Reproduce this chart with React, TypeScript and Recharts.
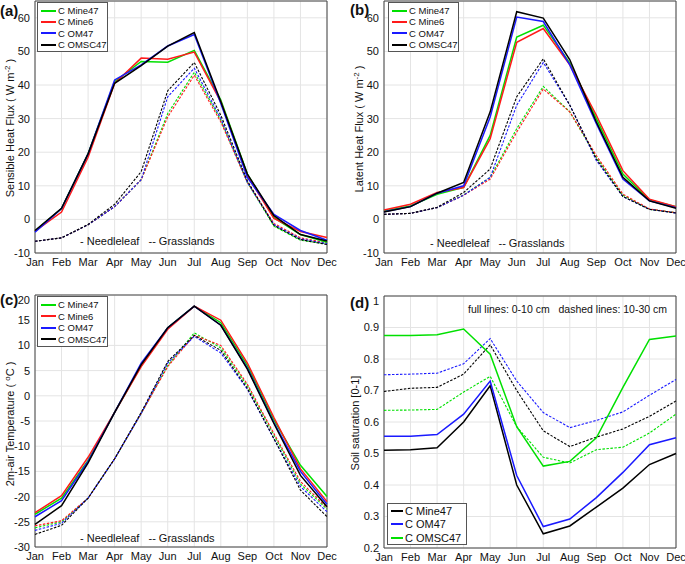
import React from 'react';
import { LineChart, Line, XAxis, YAxis, CartesianGrid, ReferenceArea } from 'recharts';

const months = ['Jan', 'Feb', 'Mar', 'Apr', 'May', 'Jun', 'Jul', 'Aug', 'Sep', 'Oct', 'Nov', 'Dec'];

// (a) sensible heat flux, W m-2
const shNeedleMine47 = [-3.5, 3.2, 19.5, 41, 47, 46.8, 50.3, 35.5, 13.5, 0.5, -4.5, -6.8];
const shNeedleMine6 = [-3.5, 2.2, 18.5, 40.5, 48, 47.7, 49.8, 35, 13, 0.3, -3.6, -5.4];
const shNeedleOM47 = [-3.8, 3.2, 19.5, 41.5, 46, 51.6, 55, 34.5, 12.5, 1.5, -3.3, -6.2];
const shNeedleOMSC47 = [-3.3, 3.3, 19.5, 40.5, 45.8, 51.6, 55.6, 35, 13.5, 1.1, -4.5, -6.4];
const shGrassMine47 = [-6.5, -5.5, -1.6, 3.8, 11.8, 31.5, 43.8, 29.5, 11, -2, -6.2, -7.3];
const shGrassMine6 = [-6.5, -5.5, -1.6, 3.8, 11.8, 30.5, 42.9, 29, 11, -1.2, -5.5, -7];
const shGrassOM47 = [-6.5, -5.5, -1.6, 3.8, 11.8, 36.5, 45, 30, 11, -1.5, -5.8, -7.2];
const shGrassOMSC47 = [-6.5, -5.5, -1.5, 4.5, 14.2, 38.3, 46.7, 31, 11.5, -1.8, -6, -7.5];

// (b) latent heat flux, W m-2
const lhNeedleMine47 = [2.5, 4, 7.5, 9.5, 25, 54.3, 57.8, 46.5, 30, 13.5, 5.8, 3.8];
const lhNeedleMine6 = [2.8, 4.5, 8, 9.5, 24, 52.7, 56.8, 46, 31, 14.5, 6, 3.8];
const lhNeedleOM47 = [2.3, 3.8, 7.8, 10, 30.5, 60.2, 58.9, 46, 28.5, 12, 5.5, 3.5];
const lhNeedleOMSC47 = [2.2, 3.8, 7.8, 11, 32, 61.8, 59.9, 47.5, 29, 12.5, 5.5, 3.3];
const lhGrassMine47 = [1.5, 1.8, 3.5, 7.3, 12.5, 27, 39.6, 32, 18.5, 7.2, 3, 2];
const lhGrassMine6 = [1.5, 1.8, 3.5, 7.2, 12, 26, 38.8, 32, 19, 7.5, 3.1, 2];
const lhGrassOM47 = [1.5, 1.8, 3.5, 7.2, 12.5, 34, 46.7, 34, 17.5, 6.8, 3, 1.9];
const lhGrassOMSC47 = [1.5, 1.8, 3.6, 8, 15, 36.5, 47.8, 34, 18, 6.8, 3, 1.9];

// (c) 2m-air temperature, degC
const taNeedleMine47 = [-23.5, -20.3, -12.8, -3.3, 6, 13.5, 17.8, 14.5, 6, -4.8, -13.8, -20];
const taNeedleMine6 = [-23.2, -19.8, -12.2, -3.3, 5.8, 13.2, 17.8, 15, 6.5, -4.3, -14.5, -21];
const taNeedleOM47 = [-24, -20.8, -13, -3.3, 6.5, 13.5, 17.8, 14, 5.5, -5.3, -15, -21.5];
const taNeedleOMSC47 = [-25.5, -21.8, -13.3, -3.3, 6.2, 13.5, 17.8, 14, 5.3, -5.5, -15.8, -22];
const taGrassMine47 = [-26.2, -25, -20.3, -12.5, -3.5, 6, 12.5, 9.5, 2, -7.8, -17.5, -22.5];
const taGrassMine6 = [-25.8, -24.8, -20.3, -12.5, -3.5, 5.8, 12, 10, 2.3, -7.5, -17, -22.2];
const taGrassOM47 = [-26.7, -25.3, -20.3, -12.5, -3.5, 6.5, 11.8, 8.5, 1.3, -8.5, -18, -23];
const taGrassOMSC47 = [-27.5, -25.7, -20.3, -12.5, -3.3, 6.8, 12, 9, 1.5, -8.5, -18.7, -24];

// (d) soil saturation [0-1], 0-10 cm (top) and 10-30 cm (deep)
const ssTopMine47 = [0.51, 0.512, 0.518, 0.6, 0.715, 0.4, 0.245, 0.27, 0.33, 0.39, 0.465, 0.5];
const ssTopOM47 = [0.555, 0.555, 0.56, 0.625, 0.73, 0.43, 0.268, 0.292, 0.36, 0.44, 0.528, 0.55];
const ssTopOMSC47 = [0.875, 0.875, 0.877, 0.895, 0.815, 0.585, 0.46, 0.475, 0.55, 0.71, 0.862, 0.873];
const ssDeepMine47 = [0.697, 0.707, 0.71, 0.752, 0.845, 0.7, 0.572, 0.522, 0.552, 0.578, 0.618, 0.667];
const ssDeepOM47 = [0.75, 0.752, 0.755, 0.785, 0.865, 0.73, 0.63, 0.582, 0.605, 0.632, 0.685, 0.735];
const ssDeepOMSC47 = [0.637, 0.638, 0.64, 0.695, 0.745, 0.585, 0.488, 0.47, 0.512, 0.52, 0.565, 0.625];

const fluxTicks = [-10, 0, 10, 20, 30, 40, 50, 60];
const tempTicks = [-30, -25, -20, -15, -10, -5, 0, 5, 10, 15, 20];
const satTicks = [0.2, 0.3, 0.4, 0.5, 0.6, 0.7, 0.8, 0.9, 1];

const GREEN = '#00e000';
const RED = '#ff1a1a';
const BLUE = '#1a1aff';
const BLACK = '#000000';
const FONT = '"Liberation Sans", Arial, Helvetica, sans-serif';

type Series = { key: string; color: string; dashed?: boolean };

const buildRows = (cols: Record<string, number[]>) =>
  months.map((month, i) => {
    const row: Record<string, string | number> = { month };
    Object.keys(cols).forEach((k) => {
      row[k] = cols[k][i];
    });
    return row;
  });

const fourSeries = (): Series[] => [
  { key: 'g1', color: GREEN, dashed: true },
  { key: 'g2', color: RED, dashed: true },
  { key: 'g3', color: BLUE, dashed: true },
  { key: 'g4', color: BLACK, dashed: true },
  { key: 'n1', color: GREEN },
  { key: 'n2', color: RED },
  { key: 'n3', color: BLUE },
  { key: 'n4', color: BLACK },
];

const dataA = buildRows({
  n1: shNeedleMine47, n2: shNeedleMine6, n3: shNeedleOM47, n4: shNeedleOMSC47,
  g1: shGrassMine47, g2: shGrassMine6, g3: shGrassOM47, g4: shGrassOMSC47,
});
const dataB = buildRows({
  n1: lhNeedleMine47, n2: lhNeedleMine6, n3: lhNeedleOM47, n4: lhNeedleOMSC47,
  g1: lhGrassMine47, g2: lhGrassMine6, g3: lhGrassOM47, g4: lhGrassOMSC47,
});
const dataC = buildRows({
  n1: taNeedleMine47, n2: taNeedleMine6, n3: taNeedleOM47, n4: taNeedleOMSC47,
  g1: taGrassMine47, g2: taGrassMine6, g3: taGrassOM47, g4: taGrassOMSC47,
});
const dataD = buildRows({
  t1: ssTopMine47, t2: ssTopOM47, t3: ssTopOMSC47,
  d1: ssDeepMine47, d2: ssDeepOM47, d3: ssDeepOMSC47,
});
const seriesD: Series[] = [
  { key: 'd3', color: GREEN, dashed: true },
  { key: 'd1', color: BLACK, dashed: true },
  { key: 'd2', color: BLUE, dashed: true },
  { key: 't1', color: BLACK },
  { key: 't2', color: BLUE },
  { key: 't3', color: GREEN },
];

interface PanelProps {
  x: number;
  y: number;
  data: Record<string, string | number>[];
  series: Series[];
  domain: [number, number];
  ticks: number[];
  fmt?: (v: number) => string;
}

function Panel({ x, y, data, series, domain, ticks, fmt }: PanelProps) {
  return (
    <div style={{ position: 'absolute', left: x, top: y }}>
      <LineChart width={345} height={280} data={data} margin={{ top: 1, right: 18, bottom: 7, left: 5 }}>
        <CartesianGrid stroke='#e4e4e4' />
        <XAxis
          dataKey='month'
          interval={0}
          tickLine={false}
          axisLine={false}
          tickSize={3}
          tickMargin={2}
          height={20}
          tick={{ fontSize: 11, fill: '#111', fontFamily: FONT }}
        />
        <YAxis
          type='number'
          domain={domain}
          ticks={ticks}
          allowDataOverflow
          width={30}
          tickLine={false}
          axisLine={false}
          tickSize={3}
          tickMargin={2}
          tickFormatter={fmt}
          tick={{ fontSize: 11, fill: '#111', fontFamily: FONT }}
        />
        <ReferenceArea x1='Jan' x2='Dec' y1={domain[0]} y2={domain[1]} fill='none' stroke='#444' strokeWidth={1} />
        {series.map((s) => (
          <Line
            key={s.key}
            dataKey={s.key}
            stroke={s.color}
            strokeWidth={s.dashed ? 1.1 : 1.5}
            strokeDasharray={s.dashed ? '2.5 1.5' : undefined}
            dot={false}
            isAnimationActive={false}
          />
        ))}
      </LineChart>
    </div>
  );
}

function LegendBox({ x, y, w, h, items, fontSize, rowH, padTop, swatch }: {
  x: number; y: number; w: number; h: number; items: [string, string][];
  fontSize: number; rowH: number; padTop: number; swatch: number;
}) {
  return (
    <div style={{
      position: 'absolute', left: x, top: y, width: w, height: h, boxSizing: 'border-box',
      border: '1px solid #555', background: '#fff', paddingTop: padTop, fontFamily: FONT, fontSize,
    }}>
      {items.map(([label, color]) => (
        <div key={label} style={{ display: 'flex', alignItems: 'center', height: rowH, whiteSpace: 'nowrap', color: '#111' }}>
          <div style={{ flex: 'none', width: swatch, height: 2, background: color, marginLeft: 3, marginRight: 2 }} />
          {label}
        </div>
      ))}
    </div>
  );
}

function Txt({ x, y, size, children, bold }: { x: number; y: number; size: number; children: React.ReactNode; bold?: boolean }) {
  return (
    <div style={{
      position: 'absolute', left: x, top: y, transform: 'translateY(-50%)', fontFamily: FONT,
      fontSize: size, fontWeight: bold ? 'bold' : 'normal', whiteSpace: 'pre', color: '#111', lineHeight: 1,
    }}>
      {children}
    </div>
  );
}

function VTitle({ cx, cy, children }: { cx: number; cy: number; children: React.ReactNode }) {
  return (
    <div style={{
      position: 'absolute', left: cx, top: cy, transform: 'translate(-50%, -50%) rotate(-90deg)',
      fontFamily: FONT, fontSize: 11, whiteSpace: 'nowrap', color: '#111', lineHeight: 1,
    }}>
      {children}
    </div>
  );
}

const sup = (t: string) => <sup style={{ fontSize: 8, verticalAlign: 4 }}>{t}</sup>;

const legendABC: [string, string][] = [
  ['C Mine47', GREEN],
  ['C Mine6', RED],
  ['C OM47', BLUE],
  ['C OMSC47', BLACK],
];
const legendD: [string, string][] = [
  ['C Mine47', BLACK],
  ['C OM47', BLUE],
  ['C OMSC47', GREEN],
];

const satFmt = (v: number) => (v === 1 ? '1' : v.toFixed(1));

export default function App() {
  return (
    <div style={{ position: 'absolute', left: 0, top: 0, width: 685, height: 564, overflow: 'hidden', background: '#fff' }}>
      <Panel x={0} y={0} data={dataA} series={fourSeries()} domain={[-10, 65]} ticks={fluxTicks} />
      <Panel x={349} y={0} data={dataB} series={fourSeries()} domain={[-10, 65]} ticks={fluxTicks} />
      <Panel x={0} y={294} data={dataC} series={fourSeries()} domain={[-30, 20]} ticks={tempTicks} />
      <Panel x={349} y={295} data={dataD} series={seriesD} domain={[0.2, 1]} ticks={satTicks} fmt={satFmt} />

      <LegendBox x={37} y={2} w={71} h={50} items={legendABC} fontSize={9.5} rowH={11.3} padTop={2} swatch={15} />
      <LegendBox x={388} y={2} w={71} h={50} items={legendABC} fontSize={9.5} rowH={11.3} padTop={2} swatch={15} />
      <LegendBox x={37} y={296} w={71} h={51} items={legendABC} fontSize={9.5} rowH={11.5} padTop={2} swatch={15} />
      <LegendBox x={387} y={503} w={80} h={42} items={legendD} fontSize={11} rowH={13.5} padTop={0} swatch={12} />

      <Txt x={0} y={10} size={15} bold>(a)</Txt>
      <Txt x={350} y={9} size={15} bold>(b)</Txt>
      <Txt x={0} y={299} size={15} bold>(c)</Txt>
      <Txt x={350} y={302} size={15} bold>(d)</Txt>

      <Txt x={80} y={241} size={11}>{'- Needleleaf   -- Grasslands'}</Txt>
      <Txt x={430} y={243} size={11}>{'- Needleleaf   -- Grasslands'}</Txt>
      <Txt x={80} y={538} size={11}>{'- Needleleaf   -- Grasslands'}</Txt>
      <Txt x={468} y={309} size={10.5}>{'full lines: 0-10 cm   dashed lines: 10-30 cm'}</Txt>

      <VTitle cx={10} cy={128}>Sensible Heat Flux ( W m{sup('-2')} )</VTitle>
      <VTitle cx={359} cy={129}>Latent Heat Flux ( W m{sup('-2')} )</VTitle>
      <VTitle cx={10} cy={424}>2m-air Temperature ( {sup('o')}C )</VTitle>
      <VTitle cx={355} cy={423}>Soil saturation [0-1]</VTitle>
    </div>
  );
}
